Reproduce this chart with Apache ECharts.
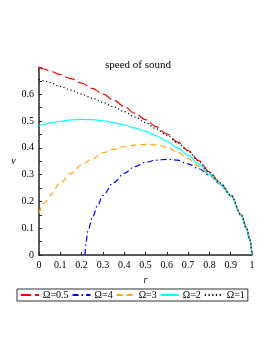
<!DOCTYPE html>
<html>
<head>
<meta charset="utf-8">
<script src="https://cdn.jsdelivr.net/npm/echarts@6/dist/echarts.min.js"></script>
<style>html,body{margin:0;padding:0;background:#fff}#c{width:274px;height:355px}</style>
</head>
<body>
<div id="c"></div>
<script>
var title = 'speed of sound';
var xName = 'r';
var yName = 'v';
var seriesNames = ['Ω=0.5', 'Ω=4', 'Ω=3', 'Ω=2', 'Ω=1'];
var xTicks = [0, 0.1, 0.2, 0.3, 0.4, 0.5, 0.6, 0.7, 0.8, 0.9, 1];
var yTicks = [0, 0.1, 0.2, 0.3, 0.4, 0.5, 0.6];

var rGrid = [0, 0.025, 0.05, 0.1, 0.15, 0.2, 0.25, 0.3, 0.35, 0.4, 0.45, 0.5, 0.55, 0.6, 0.65, 0.7, 0.75, 0.8, 0.85, 0.9, 0.95, 0.975, 0.99, 1];
var vRed    = [0.700, 0.694, 0.687, 0.673, 0.658, 0.641, 0.622, 0.601, 0.578, 0.554, 0.529, 0.505, 0.479, 0.452, 0.422, 0.390, 0.352, 0.310, 0.270, 0.225, 0.150, 0.100, 0.058, 0];
var vBlack  = [0.656, 0.650, 0.643, 0.629, 0.615, 0.600, 0.585, 0.569, 0.553, 0.535, 0.515, 0.494, 0.471, 0.447, 0.419, 0.388, 0.350, 0.308, 0.269, 0.224, 0.149, 0.099, 0.057, 0];
var vCyan   = [0.482, 0.487, 0.492, 0.499, 0.504, 0.506, 0.505, 0.501, 0.494, 0.485, 0.474, 0.461, 0.445, 0.425, 0.400, 0.372, 0.340, 0.303, 0.266, 0.222, 0.148, 0.098, 0.056, 0];
var vOrange = [0.156, 0.192, 0.222, 0.268, 0.305, 0.336, 0.359, 0.381, 0.395, 0.404, 0.410, 0.413, 0.411, 0.402, 0.384, 0.360, 0.332, 0.300, 0.264, 0.221, 0.147, 0.097, 0.056, 0];
var rBlue = [0.216, 0.22, 0.23, 0.25, 0.275, 0.3, 0.35, 0.4, 0.45, 0.5, 0.55, 0.6, 0.65, 0.7, 0.75, 0.8, 0.85, 0.9, 0.95, 0.975, 0.99, 1];
var vBlue = [0, 0.045, 0.09, 0.138, 0.185, 0.222, 0.27, 0.305, 0.33, 0.346, 0.354, 0.357, 0.354, 0.34, 0.322, 0.298, 0.264, 0.221, 0.147, 0.097, 0.056, 0];

function pairs(xs, ys) { return xs.map(function (x, i) { return [x, ys[i]]; }); }

var font = '"Liberation Serif", "DejaVu Serif", serif';
var chart = echarts.init(document.getElementById('c'), null, {renderer: 'canvas'});

function mk(name, xs, ys, color, type, width) {
  return {
    name: name, type: 'line', data: pairs(xs, ys), showSymbol: false, symbol: 'none',
    smooth: 0.35, smoothMonotone: 'x',
    lineStyle: {color: color, width: width, type: type},
    itemStyle: {color: color},
    emphasis: {disabled: true}
  };
}

chart.setOption({
  animation: false,
  textStyle: {fontFamily: font},
  title: {
    text: title, left: 133, top: 55, textAlign: 'center',
    textStyle: {fontFamily: font, fontSize: 11, fontWeight: 'normal', color: '#000'}
  },
  grid: {left: 39, right: 22, top: 67.4, bottom: 100},
  legend: {
    data: seriesNames,
    left: 17, top: 289, width: 260,
    itemWidth: 18, itemHeight: 8, itemGap: 3,
    itemStyle: {opacity: 0, borderWidth: 0},
    borderColor: '#333', borderWidth: 1, padding: [1, 3, 1, 3],
    textStyle: {fontFamily: font, fontSize: 10, color: '#000', padding: [0, 0, 0, -1]},
    selectedMode: false
  },
  xAxis: {
    type: 'value', min: 0, max: 1, interval: 0.1,
    name: xName, nameLocation: 'middle', nameGap: 16,
    nameTextStyle: {fontFamily: font, fontStyle: 'italic', fontSize: 10, color: '#000'},
    axisLine: {lineStyle: {color: '#222', width: 1.5}},
    axisTick: {inside: true, length: 3, lineStyle: {color: '#222'}},
    axisLabel: {fontFamily: font, fontSize: 10, color: '#000', margin: 5,
      formatter: function (v) { var k = Math.round(v * 10) / 10; return xTicks.indexOf(k) >= 0 ? String(k) : ''; }},
    splitLine: {show: false}
  },
  yAxis: {
    type: 'value', min: 0, max: 0.7, interval: 0.1,
    name: yName, nameLocation: 'middle', nameGap: 19, nameRotate: 0,
    nameTextStyle: {fontFamily: font, fontStyle: 'italic', fontSize: 10, color: '#000'},
    axisLine: {show: true, lineStyle: {color: '#222', width: 1.5}},
    axisTick: {show: true, inside: true, length: 3, lineStyle: {color: '#222'}},
    minorTick: {show: true, splitNumber: 2, length: 3, lineStyle: {color: '#222'}},
    axisLabel: {fontFamily: font, fontSize: 10, color: '#000', margin: 5, showMaxLabel: false,
      formatter: function (v) { var k = Math.round(v * 10) / 10; return yTicks.indexOf(k) >= 0 ? String(k) : ''; }},
    splitLine: {show: false}
  },
  series: [
    mk(seriesNames[0], rGrid, vRed, '#ff0000', [10, 4], 1.2),
    mk(seriesNames[1], rBlue, vBlue, '#0000ff', [6, 3, 1.5, 3], 1.2),
    mk(seriesNames[2], rGrid, vOrange, '#ffa500', [6, 4], 1.2),
    mk(seriesNames[3], rGrid, vCyan, '#00ffff', 'solid', 1.2),
    mk(seriesNames[4], rGrid, vBlack, '#000000', [1.2, 2.5], 1.2)
  ]
});
</script>
</body>
</html>
